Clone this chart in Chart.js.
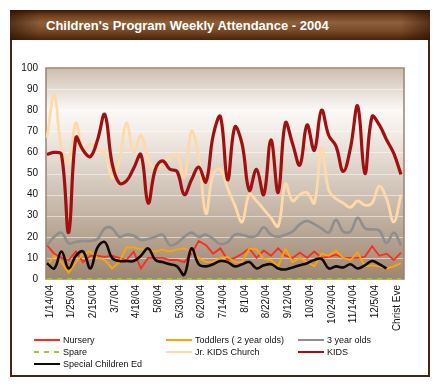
<!DOCTYPE html>
<html><head><meta charset="utf-8">
<script src="https://cdn.jsdelivr.net/npm/chart.js"></script>
<style>
html,body{margin:0;padding:0;background:#fff;}
#wrap{position:relative;width:440px;height:392px;overflow:hidden;font-family:'Liberation Sans',Arial,sans-serif;}
#card{position:absolute;left:10px;top:10px;width:416px;height:363px;border:2px solid #4a2412;background:#fff;}
#titlebar{position:absolute;left:10px;top:10px;width:420px;height:30px;
 background:linear-gradient(to right,rgba(35,12,0,.55) 0%,rgba(0,0,0,0) 7%,rgba(0,0,0,0) 93%,rgba(35,12,0,.55) 100%),
 linear-gradient(to bottom,#3a1704 0%,#6e3f1c 18%,#8d5f3a 42%,#7a4b28 68%,#4a2208 100%);}
#title{position:absolute;left:46px;top:18px;color:#fff;font-weight:bold;font-size:13px;line-height:15px;white-space:nowrap;}
canvas{position:absolute;left:0;top:0;}
#legend{position:absolute;left:0;top:0;width:440px;height:392px;pointer-events:none;}
.li{position:absolute;height:12px;font-size:9px;line-height:12px;color:#111;white-space:nowrap;}
.ln{position:absolute;left:0;top:5px;width:26px;height:2px;}
.lt{position:absolute;left:29px;top:0;}
</style></head>
<body>
<div id="wrap">
 <div id="card"></div>
 <div id="titlebar"></div>
 <div id="title">Children's Program Weekly Attendance - 2004</div>
 <canvas id="c" width="440" height="392"></canvas>
 <div id="legend"></div>
</div>
<script>
const tickLabels = ['1/14/04','1/25/04','2/15/04','3/7/04','4/18/04','5/8/04','5/30/04','6/20/04','7/14/04','8/1/04','8/22/04','9/12/04','10/3/04','10/24/04','11/14/04','12/5/04','Christ Eve'];
const weekCount = 50;
const categories = [];
for (let i = 0; i < weekCount; i++) categories.push(i % 3 === 0 ? (tickLabels[i/3] || '') : '');

const nursery   = [16,12,10,9,13,8,11,11,10.5,11, 10,9,13,5,10,10,10,9,9,8, 12,18,16,12,14.5,9,10,12,14.5,10, 13.5,11,14.5,11,10,12.5,10,13,10,10.5, 11.5,10,10,10,10.5,15.5,11,12,9,12.5];
const toddlers  = [6,11,8,3,8,12,13,10,9,5, 8,15,15,14,14,13,14,13,14,14.5, 13,10,8,8,10,10.5,8,8,14.5,14, 9.5,9,6,14.5,8,10,8,6,12,11, 13.5,10,9,12.5,6,6.5,6,5,6,7.5];
const threeYear = [16,20,22,17,17.5,18,18,19,24,24, 20,21,20.5,18.5,19,20,21,16,17,20, 22,20,21,19,16.5,17.5,21,21,20,20.5, 24.5,21,20,21,22.5,26,27.5,26,24,22, 28,22.5,22.5,29,24,23.5,23,17,22,16];
const spare     = [0,0,0,0,0,0,0,0,0,0, 0,0,0,0,0,0,0,0,0,0, 0,0,0,0,0,0,0,0,0,0, 0,0,0,0,0,0,0,0,0,0, 0,0,0,0,0,0,0,0,0,0];
const jrKids    = [67,87,62,55,74,61,64,61,60,48, 56,74,60,68,57,52,55,57,59,48, 70,58,31,50,52,43,35,27,40,37, 33,29,25,45,37,40,41,36,62,42, 38,36,34,37,35,36,44,38,27,40];
const kids      = [59,60,59,22,67,61,58,66,78,55, 45.5,46.5,52.5,59,36,52,56,52,51,40, 47,53,46,68,77,47,72,64,42,52, 40,66,41,74,64,54,73,61,80,68, 63,51,62,82,50,77,73,66,59.5,49.5];
const special   = [7.5,5,13,5,11,13,5,15,17.5,10, 8.5,8.5,8.5,11,14.5,9,8,7,6,2, 14.5,7,6,7,8.5,8,6,7,8,5, 6.5,7,5,4.5,5.5,6.5,7.5,9,9.5,5, 6,5.5,7,5,6.5,8.5,7,5,null,null];
const yTicks = [0,10,20,30,40,50,60,70,80,90,100];

Chart.defaults.font.family = "'Liberation Sans', Arial, sans-serif";

const common = {pointRadius:0, pointHoverRadius:0, fill:false, clip:6, spanGaps:false};
const datasets = [
 {label:'Nursery', data:nursery, borderColor:'#ff2a1a', borderWidth:1.8, tension:0, order:6},
 {label:'Toddlers ( 2 year olds)', data:toddlers, borderColor:'#ffa500', borderWidth:1.8, tension:0, order:5},
 {label:'3 year olds', data:threeYear, borderColor:'#8e8e8e', borderWidth:2.6, tension:0.4, order:4},
 {label:'Spare', data:spare, borderColor:'#99cc33', borderWidth:2, borderDash:[5,5], tension:0, order:3},
 {label:'Jr. KIDS Church', data:jrKids, borderColor:'#ffd9a8', borderWidth:2.8, tension:0.4, order:2},
 {label:'KIDS', data:kids, borderColor:'#a01010', borderWidth:3.2, tension:0.4, order:1},
 {label:'Special Children Ed', data:special, borderColor:'#140804', borderWidth:2.6, tension:0.4, order:0}
].map(d => Object.assign({}, common, d));

const bgPlugin = {
 id:'bg',
 beforeDatasetsDraw(chart){
  const {ctx, chartArea:a, scales:{y}} = chart;
  const L = a.left-1, R = a.right+3, T = a.top, B = a.bottom;
  ctx.save();
  const g = ctx.createLinearGradient(0,T,0,B);
  g.addColorStop(0,'#cdbdad');
  g.addColorStop(0.2,'#fbf9f7');
  g.addColorStop(0.3,'#f3ede7');
  g.addColorStop(1,'#9d8670');
  ctx.fillStyle = g;
  ctx.fillRect(L,T,R-L,B-T);
  ctx.strokeStyle = 'rgba(255,255,255,0.5)';
  ctx.lineWidth = 1;
  yTicks.forEach(v => {
   const py = Math.round(y.getPixelForValue(v))+0.5;
   ctx.beginPath(); ctx.moveTo(L,py); ctx.lineTo(R,py); ctx.stroke();
  });
  ctx.strokeStyle = '#9c8270';
  ctx.lineWidth = 1.5;
  ctx.strokeRect(L,T,R-L,B-T);
  ctx.restore();
 }
};

const chart = new Chart(document.getElementById('c'), {
 type:'line',
 data:{labels:categories, datasets},
 options:{
  responsive:false, animation:false,
  layout:{padding:{left:0,right:39,top:68,bottom:0}},
  plugins:{legend:{display:false}, tooltip:{enabled:false}, title:{display:false}},
  scales:{
   x:{
    offset:false,
    grid:{display:false, drawTicks:false}, border:{display:false},
    ticks:{autoSkip:false, minRotation:90, maxRotation:90, padding:6, labelOffset:3, color:'#111', font:{size:10}},
    afterFit(s){ s.height = 113; }
   },
   y:{
    min:0, max:100,
    grid:{display:false, drawTicks:false}, border:{display:false},
    ticks:{stepSize:10, padding:9, color:'#111', font:{size:10}},
    afterFit(s){ s.width = 47; }
   }
  }
 },
 plugins:[bgPlugin]
});

// legend built from the chart's datasets
const leg = document.getElementById('legend');
const colX = [34,166,298], rowY = [334,346,358];
chart.data.datasets.forEach((d,i) => {
 const item = document.createElement('div');
 item.className = 'li';
 item.style.left = colX[i%3]+'px';
 item.style.top = rowY[Math.floor(i/3)]+'px';
 const ln = document.createElement('div');
 ln.className = 'ln';
 ln.style.background = d.borderDash ? `repeating-linear-gradient(to right, ${d.borderColor} 0 5px, transparent 5px 10px)` : d.borderColor;
 const t = document.createElement('span');
 t.className = 'lt';
 t.textContent = d.label;
 item.appendChild(ln); item.appendChild(t);
 leg.appendChild(item);
});
</script>
</body></html>
